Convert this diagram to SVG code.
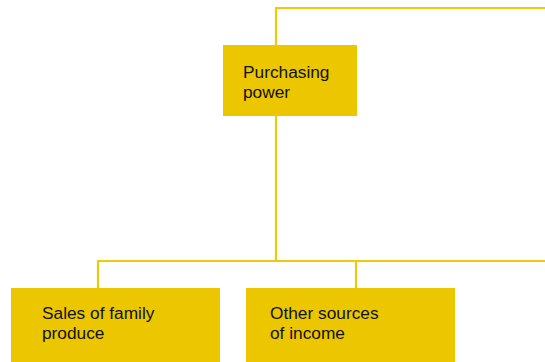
<svg xmlns="http://www.w3.org/2000/svg" width="545" height="362" viewBox="0 0 545 362">
<style>
.box{fill:#ecc700}
.t{font-family:"Liberation Sans",Arial,sans-serif;font-size:17.3px;fill:#111}
.c{fill:none;stroke:#efc90a;stroke-width:2.2}
</style>
<rect width="545" height="362" fill="#fff"/>
<g id="connectors">
<path class="c" d="M545 8H276V261"/>
<path class="c" d="M98 288V261H545"/>
<path class="c" d="M356 261V288"/>
</g>
<g id="purchasing">
<rect class="box" x="223" y="45" width="134" height="71"/>
<text class="t" x="243" y="77.5">Purchasing<tspan x="243" dy="20.5">power</tspan></text>
</g>
<g id="sales">
<rect class="box" x="11" y="288" width="209" height="74"/>
<text class="t" x="42" y="318.5">Sales of family<tspan x="42" dy="20.5">produce</tspan></text>
</g>
<g id="other">
<rect class="box" x="246" y="288" width="209" height="74"/>
<text class="t" x="270" y="318.5">Other sources<tspan x="270" dy="20.5">of income</tspan></text>
</g>
</svg>
